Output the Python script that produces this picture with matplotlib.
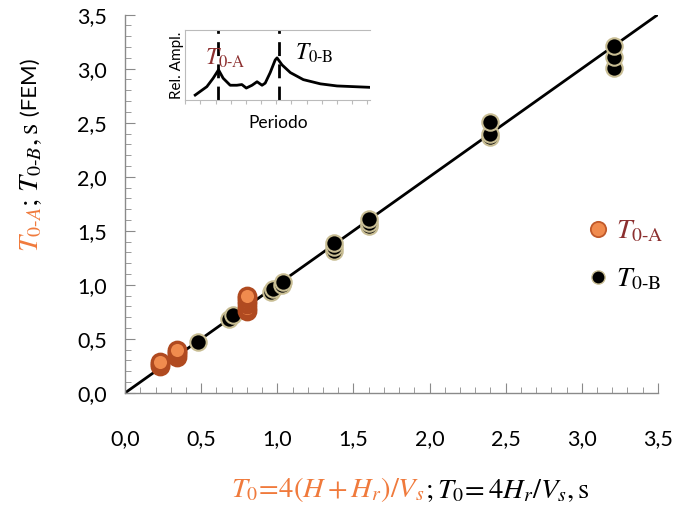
import matplotlib.pyplot as plt
from matplotlib.lines import Line2D

plt.rcParams['mathtext.fontset'] = 'stix'
plt.rcParams['font.family'] = ['Lato', 'DejaVu Sans']

# --- dados (leitura do gráfico) ---
# T0-A : período fundamental do conjunto (laranja)
tA_x = [0.23, 0.23, 0.23, 0.34, 0.34, 0.34, 0.34, 0.80, 0.80, 0.80, 0.80, 0.80, 0.80]
tA_y = [0.25, 0.27, 0.29, 0.33, 0.36, 0.38, 0.40, 0.76, 0.79, 0.82, 0.85, 0.88, 0.90]

# T0-B : período do aterro (preto)
tB_x = [0.48, 0.68, 0.71, 0.96, 0.97, 1.03, 1.04, 1.37, 1.37, 1.37,
        1.60, 1.60, 1.60, 2.40, 2.40, 2.40, 3.21, 3.21, 3.21]
tB_y = [0.47, 0.68, 0.72, 0.93, 0.96, 1.00, 1.03, 1.31, 1.35, 1.39,
        1.54, 1.57, 1.61, 2.37, 2.40, 2.51, 3.01, 3.11, 3.21]

# reta 1:1
reta = [0.0, 3.5]

# curva esquemática do detalhe (período x amplitude relativa)
ins_per = [0.54, 1.17, 1.51, 1.80, 2.05, 2.43, 2.79, 3.06, 3.30, 3.61, 3.88,
           4.15, 4.32, 4.59, 4.86, 4.96, 5.23, 5.68, 6.38, 7.30, 8.20, 10.0]
ins_amp = [0.07, 0.19, 0.31, 0.43, 0.31, 0.21, 0.21, 0.22, 0.17, 0.21, 0.26,
           0.21, 0.24, 0.39, 0.57, 0.60, 0.50, 0.39, 0.29, 0.23, 0.20, 0.18]
ins_picos = [1.75, 5.05]

ticks = [0.0, 0.5, 1.0, 1.5, 2.0, 2.5, 3.0, 3.5]
tick_labels = ["0,0", "0,5", "1,0", "1,5", "2,0", "2,5", "3,0", "3,5"]

laranja = '#f07a3c'
laranja_borda = '#b04a20'
vinho = '#8c2f2f'
cinza = '#8a8a8a'

fig = plt.figure(figsize=(6.91, 5.05), dpi=100)
ax = fig.add_axes([0.181, 0.222, 0.771, 0.749])

ax.plot(reta, reta, color='black', lw=2, zorder=2)
ax.scatter(tB_x, tB_y, s=140, color='black', edgecolor='#c8bd93', linewidth=1.5, zorder=3)
ax.scatter(tA_x, tA_y, s=140, color='#f08b4e', edgecolor=laranja_borda, linewidth=2.4, zorder=4)

ax.set_xlim(0, 3.5)
ax.set_ylim(0, 3.5)
ax.set_xticks(ticks)
ax.set_xticklabels(tick_labels)
ax.set_yticks(ticks)
ax.set_yticklabels(tick_labels)
ax.minorticks_on()
ax.xaxis.set_minor_locator(plt.MultipleLocator(0.1))
ax.yaxis.set_minor_locator(plt.MultipleLocator(0.1))
ax.tick_params(which='both', direction='in', color=cinza, labelsize=15.5)
ax.tick_params(which='major', length=7)
ax.tick_params(which='minor', length=4)
ax.tick_params(axis='x', which='major', pad=26)
ax.tick_params(axis='y', which='major', pad=13)
for s in ['top', 'right']:
    ax.spines[s].set_visible(False)
for s in ['left', 'bottom']:
    ax.spines[s].set_color(cinza)
    ax.spines[s].set_linewidth(1.0)

# rótulo do eixo x (duas cores)
t1 = fig.text(0.335, 0.015, r"$T_0\!=\!4(H+H_r)/V_s$", color=laranja, fontsize=20.5)
ax.annotate(r"$;T_0\!= 4H_r/V_s, \mathrm{s}$", xy=(1, 0), xycoords=t1,
            va='bottom', ha='left', fontsize=20.5, color='black', annotation_clip=False)

# rótulo do eixo y (duas cores)
y1 = fig.text(0.045, 0.50, r"$T_{0\text{-}A}$", color=laranja, fontsize=20.5,
              rotation=90, ha='center', va='bottom')
y2 = ax.annotate(r"$;\,T_{0\text{-}B}, \mathrm{s}$", xy=(0.5, 1), xycoords=y1,
                 rotation=90, ha='center', va='bottom', fontsize=20.5, annotation_clip=False)
ax.annotate(" (FEM)", xy=(0.5, 1), xycoords=y2, rotation=90, ha='center',
            va='bottom', fontsize=16, annotation_clip=False)

# legenda
h = [Line2D([], [], ls='none', marker='o', ms=11, mfc='#f08b4e', mec='#c0592a', mew=1.3),
     Line2D([], [], ls='none', marker='o', ms=9.5, mfc='black', mec='#c8bd93', mew=1)]
leg = ax.legend(h, [r"$T_{\text{0-A}}$", r"$T_{\text{0-B}}$"], loc='center left',
                bbox_to_anchor=(0.815, 0.365), frameon=False, fontsize=20,
                labelspacing=0.75, handletextpad=0.15, handlelength=1.0)
leg.get_texts()[0].set_color(vinho)

# detalhe: espectro esquemático
axi = fig.add_axes([0.268, 0.802, 0.268, 0.139])
axi.plot(ins_per, ins_amp, color='black', lw=2)
for p in ins_picos:
    axi.axvline(p, color='black', lw=2, dashes=(5, 3))
axi.set_xlim(0, 10)
axi.set_ylim(0, 1)
axi.set_yticks([])
axi.set_xticks([i * 0.82 for i in range(13)])
axi.set_xticklabels([])
axi.tick_params(axis='x', direction='out', length=3, color='#bbbbbb')
axi.spines['right'].set_visible(False)
for s in ['left', 'bottom', 'top']:
    axi.spines[s].set_color('#bbbbbb')
    axi.spines[s].set_linewidth(0.8)
axi.patch.set_alpha(0)
axi.set_xlabel("Periodo", fontsize=12.5, labelpad=4)
axi.set_ylabel("Rel. Ampl.", fontsize=11, labelpad=1)
axi.text(1.08, 0.50, r"$T_{\text{0-A}}$", color=vinho, fontsize=17)
axi.text(5.95, 0.58, r"$T_{\text{0-B}}$", color='black', fontsize=17)

fig.savefig("out.png", dpi=100)
